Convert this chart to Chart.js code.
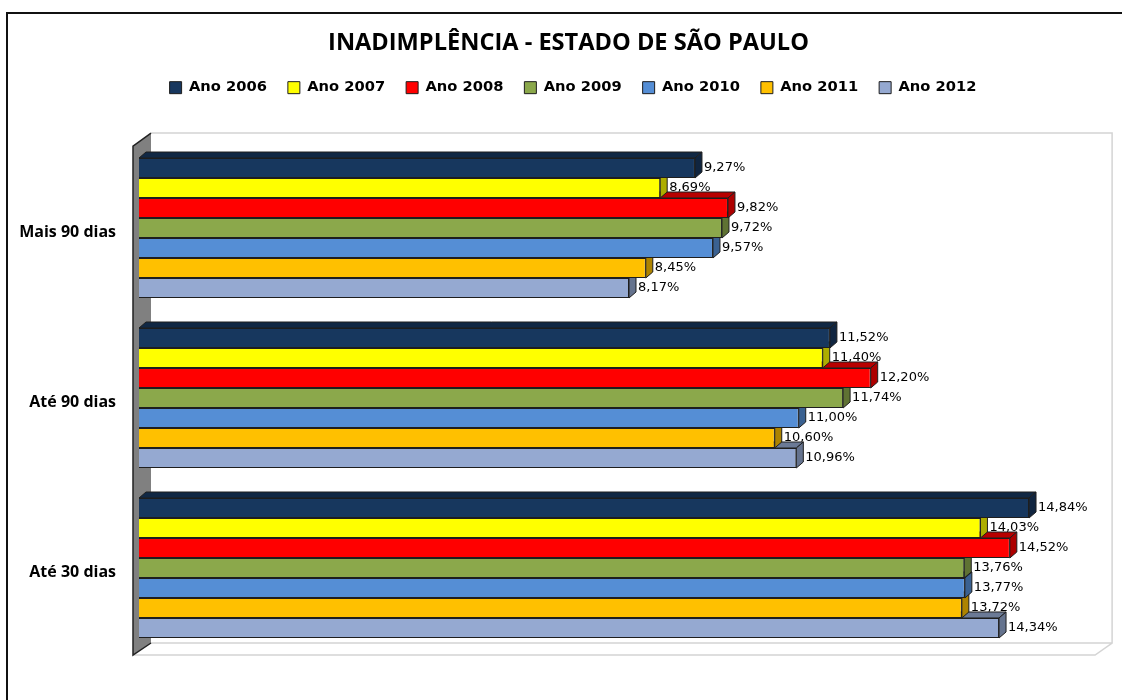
<!DOCTYPE html>
<html><head><meta charset="utf-8">
<style>html,body{margin:0;padding:0;background:#fff}#w{position:relative;width:1122px;height:700px;overflow:hidden}canvas{display:block}
#f{position:absolute;left:6px;top:12px;width:1200px;height:800px;border:2px solid #111;box-sizing:border-box;pointer-events:none}</style>
<script src="https://cdn.jsdelivr.net/npm/chart.js@4"></script></head>
<body><div id="w"><canvas id="c" width="1122" height="700"></canvas><div id="f"></div></div>
<script>
const titleText = 'INADIMPLÊNCIA - ESTADO DE SÃO PAULO';
const categories = ['Mais 90 dias', 'Até 90 dias', 'Até 30 dias'];
const ano2006 = [9.27, 11.52, 14.84];
const ano2007 = [8.69, 11.40, 14.03];
const ano2008 = [9.82, 12.20, 14.52];
const ano2009 = [9.72, 11.74, 13.76];
const ano2010 = [9.57, 11.00, 13.77];
const ano2011 = [8.45, 10.60, 13.72];
const ano2012 = [8.17, 10.96, 14.34];
const seriesNames = ['Ano 2006','Ano 2007','Ano 2008','Ano 2009','Ano 2010','Ano 2011','Ano 2012'];
const seriesValues = [ano2006, ano2007, ano2008, ano2009, ano2010, ano2011, ano2012];
const colors = ['#17375E','#FFFF00','#FF0000','#8BA84B','#558ED5','#FFC000','#95A9D1'];
const DX = 7, DY = 6;
const EDGE = '#1e1e1e';
function shade(hex, k){
  const n = parseInt(hex.slice(1),16);
  return 'rgb('+[(n>>16)&255,(n>>8)&255,n&255].map(v=>Math.round(v*k)).join(',')+')';
}
function poly(ctx, pts, fill, stroke, lw){
  ctx.beginPath();
  pts.forEach((p,i)=> i?ctx.lineTo(p[0],p[1]):ctx.moveTo(p[0],p[1]));
  ctx.closePath();
  if(fill){ctx.fillStyle=fill;ctx.fill();}
  if(stroke){ctx.strokeStyle=stroke;ctx.lineWidth=lw||1;ctx.stroke();}
}
const scene = {
  id:'scene',
  afterLayout(chart){
    chart.legend.left += 16.2; chart.legend.right += 16.2;
    chart.titleBlock.left += 11.7; chart.titleBlock.right += 11.7;
  },
  beforeDatasetsDraw(chart){
    const ctx = chart.ctx, a = chart.chartArea;
    ctx.save();
    const L=a.left, T=a.top, B=a.bottom, R=a.right;
    const bl=L+12, br=R+13.5, bt=T-10, bb=B-10, fl=L-6, fr=R-3.5, fb=B+2, ft=T+3;
    poly(ctx,[[bl,bt],[br,bt],[br,bb],[fr,fb],[fl,fb],[bl,bb]],'#ffffff');
    ctx.strokeStyle='#d4d4d4';ctx.lineWidth=1.5;
    ctx.beginPath();ctx.moveTo(bl,bt);ctx.lineTo(br,bt);ctx.lineTo(br,bb);ctx.lineTo(fr,fb);ctx.lineTo(fl,fb);
    ctx.moveTo(bl,bb);ctx.lineTo(br,bb);ctx.stroke();
    poly(ctx,[[fl,ft],[bl,bt],[bl,bb],[fl,fb]],'#808080');
    ctx.strokeStyle='#222';ctx.lineWidth=1.5;
    ctx.beginPath();ctx.moveTo(bl,bt);ctx.lineTo(fl,ft);ctx.lineTo(fl,fb);ctx.lineTo(bl,bb);ctx.stroke();
    // value labels sit under the 3D faces of the neighbouring bars
    ctx.font='13px "DejaVu Sans"';ctx.fillStyle='#000';ctx.textAlign='left';ctx.textBaseline='middle';
    chart.data.datasets.forEach((ds,i)=>{
      chart.getDatasetMeta(i).data.forEach((bar,j)=>{
        ctx.fillText(ds.data[j].toFixed(2).replace('.',',')+'%', bar.x+DX+2, bar.y-0.5);
      });
    });
    ctx.restore();
  },
  beforeDatasetDraw(chart,args){
    const ctx=chart.ctx, col=chart.data.datasets[args.index].backgroundColor;
    ctx.save();
    args.meta.data.forEach(bar=>{
      const h=bar.height/2, x0=bar.base, x1=bar.x, t=bar.y-h, b=bar.y+h;
      poly(ctx,[[x0,t],[x0+DX,t-DY],[x1+DX,t-DY],[x1,t]],shade(col,0.72),EDGE,1);
      poly(ctx,[[x1,t],[x1+DX,t-DY],[x1+DX,b-DY],[x1,b]],shade(col,0.68),EDGE,1);
    });
    ctx.restore();
  }
};
new Chart(document.getElementById('c'),{
  type:'bar',
  plugins:[scene],
  data:{labels:categories,datasets:seriesNames.map((n,i)=>({label:n,data:seriesValues[i],backgroundColor:colors[i],borderColor:EDGE,borderWidth:1}))},
  options:{
    indexAxis:'y',responsive:false,animation:false,
    categoryPercentage:0.8235,barPercentage:1,
    layout:{padding:{left:15,right:23.4,top:29,bottom:47}},
    plugins:{
      tooltip:{enabled:false},
      title:{display:true,text:titleText,color:'#000',font:{family:'"Open Sans"',size:23.6,weight:'bold'},padding:{top:0,bottom:2}},
      legend:{position:'top',labels:{boxWidth:12,boxHeight:12,padding:21,color:'#000',font:{family:'"DejaVu Sans"',size:14.7,weight:'bold'}}}
    },
    scales:{
      x:{position:'top',min:0,max:16,grid:{display:false},border:{display:false},ticks:{display:false},afterFit(s){s.height=38;}},
      y:{grid:{display:false},border:{display:false},afterFit(s){s.width=124;},
         ticks:{padding:15,labelOffset:4,color:'#000',font:{family:'"Open Sans"',size:16,weight:'bold'}}}
    }
  }
});
</script></body></html>
